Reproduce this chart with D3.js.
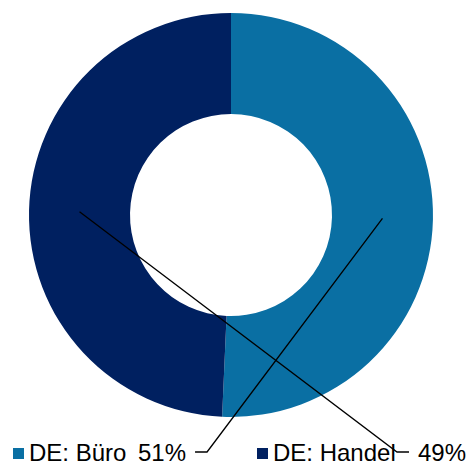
<!DOCTYPE html>
<html>
<head>
<meta charset="utf-8">
<script src="https://cdn.jsdelivr.net/npm/d3@7"></script>
<style>
  body { margin: 0; background: #fff; }
  svg { display: block; font-family: "Liberation Sans", Arial, sans-serif; }
</style>
</head>
<body>
<svg id="chart" width="468" height="463"></svg>
<script>
// chart data
const categories = ["DE: Büro", "DE: Handel"];
const shares = [50.7, 49.3];
const colors = ["#0a6fa3", "#002060"];

const svg = d3.select("#chart");
const cx = 231, cy = 215;
const outerR = 202, innerR = 101;

const pie = d3.pie().sort(null).value(d => d)(shares);
const arc = d3.arc().innerRadius(innerR).outerRadius(outerR);
const fmt = d => Math.round(d) + "%";

const g = svg.append("g").attr("transform", `translate(${cx},${cy})`);

g.selectAll("path")
    .data(pie)
    .enter()
    .append("path")
    .attr("d", arc)
    .attr("fill", (d, i) => colors[i]);

// legend row at the bottom, data labels sit inside it
const legendY = 461;
const legendX = [13, 257];
const labelX = [138, 418];

const legend = svg.append("g").attr("class", "legend");

legend.selectAll("rect")
    .data(categories)
    .enter()
    .append("rect")
    .attr("x", (d, i) => legendX[i])
    .attr("y", legendY - 13)
    .attr("width", 11)
    .attr("height", 11)
    .attr("fill", (d, i) => colors[i]);

legend.selectAll("text")
    .data(categories)
    .enter()
    .append("text")
    .attr("x", (d, i) => legendX[i] + 16)
    .attr("y", legendY)
    .style("font-size", "24px")
    .style("fill", "#000")
    .text(d => d);

const dataLabels = svg.selectAll(".data-label")
    .data(pie)
    .enter()
    .append("text")
    .attr("class", "data-label")
    .attr("x", (d, i) => labelX[i])
    .attr("y", legendY)
    .style("font-size", "24px")
    .style("fill", "#000")
    .text(d => fmt(d.value));

// leader lines: slice centroid -> elbow -> short stub next to the label
const ly = legendY - 9;
const gap = 9, stub = 12;
const boxes = dataLabels.nodes().map(n => n.getBBox());

svg.selectAll(".leader")
    .data(pie)
    .enter()
    .append("polyline")
    .attr("class", "leader")
    .attr("fill", "none")
    .attr("stroke", "#000")
    .attr("stroke-width", 1.3)
    .attr("points", (d, i) => {
        const c = arc.centroid(d);
        const b = boxes[i];
        // label sits left of the line end for the first slice, right for the second
        const end = i === 0 ? b.x + b.width + gap : b.x - gap;
        const elbow = i === 0 ? end + stub : end - stub;
        return `${cx + c[0]},${cy + c[1]} ${elbow},${ly} ${end},${ly}`;
    });
</script>
</body>
</html>
